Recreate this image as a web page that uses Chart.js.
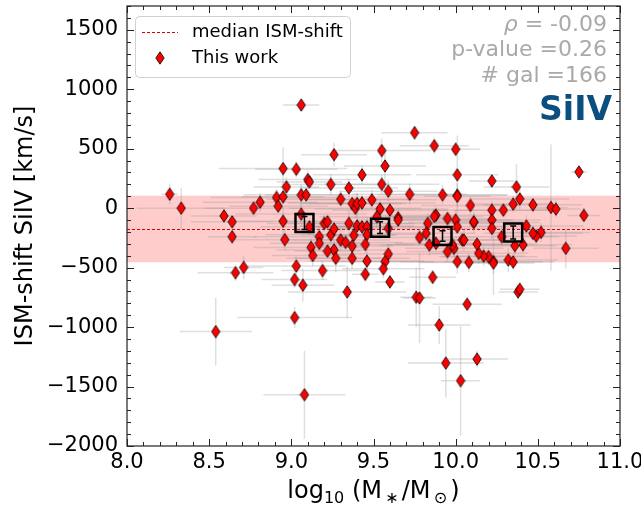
<!DOCTYPE html>
<html>
<head>
<meta charset="utf-8">
<script src="https://cdn.jsdelivr.net/npm/chart.js@4"></script>
<style>
  html, body { margin: 0; padding: 0; background: #fff; }
</style>
</head>
<body>
<canvas id="myChart" width="641" height="508"></canvas>
<script>
// log10 stellar mass of each galaxy
const massX = [
  8.26, 8.33, 8.54, 8.59, 8.64, 8.64, 8.66, 8.71, 8.77, 8.81,
  8.91, 8.92, 8.95, 8.95, 8.97, 8.95, 8.96, 9.03, 9.06, 9.10,
  9.11, 9.06, 9.09, 9.06, 9.11, 9.12, 9.13, 9.03, 9.02, 9.07,
  9.02, 9.08, 9.17, 9.17, 9.19, 9.20, 9.22, 9.24, 9.24, 9.26,
  9.26, 9.26, 9.27, 9.22, 9.30, 9.30, 9.33, 9.35, 9.35, 9.37,
  9.37, 9.37, 9.39, 9.40, 9.38, 9.40, 9.43, 9.43, 9.43, 9.46,
  9.46, 9.45, 9.46, 9.45, 9.34, 9.49, 9.55, 9.57, 9.55, 9.59,
  9.54, 9.60, 9.65, 9.65, 9.52, 9.59, 9.59, 9.57, 9.56, 9.60,
  9.72, 9.75, 9.87, 10.00, 10.01, 9.92, 10.01, 10.01, 10.09, 10.22,
  10.37, 10.39, 10.35, 10.29, 10.22, 10.22, 10.22, 10.47, 10.58, 10.61,
  10.75, 10.78, 10.67, 10.52, 10.49, 10.47, 10.43, 10.41, 10.36, 10.32,
  10.35, 10.38, 10.39, 10.28, 10.23, 10.23, 10.20, 10.17, 10.14, 10.13,
  10.08, 10.11, 10.11, 10.01, 9.99, 10.04, 10.05, 10.00, 10.01, 9.98,
  9.95, 9.95, 9.88, 9.87, 9.83, 9.82, 9.78, 9.84, 9.88, 9.86,
  9.76, 9.78, 10.07, 9.90, 9.94, 10.13, 10.03
];
// ISM shift of SiIV in km/s
const shiftY = [
  117, 0, -1038, -65, -115, -240, -543, -498, 0, 50,
  90, 17, 95, 333, 179, -110, -265, 327, 867, 241,
  221, 112, 112, -50, -157, -330, -398, -487, -600, -648,
  -920, -1569, -240, -296, -525, -128, -115, -224, 199, 450,
  -176, -352, -422, -361, 75, -268, -288, -128, 170, -319,
  -422, 39, 0, -149, -227, 39, 280, 44, -157, -157,
  -222, -305, -445, -556, -705, 70, 484, 355, 201, 143,
  -6, -17, -81, -100, -73, -170, -386, -450, -510, -620,
  117, 635, 525, 495, 280, 112, 109, 100, 23, 229,
  179, 78, 34, -17, -17, -100, -170, 28, 6, -8,
  305, -61, -338, -204, -235, -212, -149, -308, -316, -436,
  -453, -705, -682, -240, -450, -462, -408, -403, -380, -302,
  -456, -120, -115, -450, -338, -268, -268, -100, -157, -308,
  -87, -365, -59, -70, -128, -212, -246, -310, -296, -582,
  -749, -755, -808, -982, -1303, -1269, -1451
];
// errors on mass (dex) and on shift (km/s)
const massErr = [
  0.05, 0.27, 0.22, 0.20, 0.25, 0.15, 0.23, 0.12, 0.30, 0.35,
  0.40, 0.30, 0.25, 0.39, 0.20, 0.30, 0.35, 0.25, 0.11, 0.30,
  0.20, 0.35, 0.25, 0.40, 0.30, 0.35, 0.25, 0.30, 0.20, 0.19,
  0.35, 0.25, 0.40, 0.30, 0.25, 0.35, 0.30, 0.40, 0.30, 0.20,
  0.25, 0.35, 0.30, 0.20, 0.45, 0.30, 0.35, 0.40, 0.30, 0.25,
  0.35, 0.30, 0.40, 0.35, 0.25, 0.30, 0.30, 0.45, 0.30, 0.35,
  0.40, 0.30, 0.35, 0.08, 0.36, 0.40, 0.30, 0.25, 0.35, 0.30,
  0.40, 0.35, 0.30, 0.25, 0.35, 0.30, 0.40, 0.30, 0.25, 0.09,
  0.35, 0.20, 0.21, 0.15, 0.25, 0.40, 0.30, 0.20, 0.30, 0.14,
  0.20, 0.30, 0.25, 0.30, 0.35, 0.30, 0.25, 0.30, 0.10, 0.15,
  0.05, 0.10, 0.20, 0.30, 0.25, 0.30, 0.35, 0.30, 0.25, 0.30,
  0.25, 0.12, 0.12, 0.35, 0.30, 0.25, 0.30, 0.25, 0.30, 0.35,
  0.30, 0.40, 0.30, 0.35, 0.30, 0.25, 0.30, 0.35, 0.30, 0.40,
  0.30, 0.25, 0.35, 0.30, 0.40, 0.30, 0.35, 0.30, 0.25, 0.14,
  0.10, 0.10, 0.21, 0.19, 0.23, 0.19, 0.12
];
const shiftErr = [
  85, 170, 285, 60, 50, 60, 70, 100, 60, 80,
  70, 50, 60, 180, 80, 120, 90, 70, 40, 80,
  60, 90, 60, 100, 70, 80, 90, 80, 70, 140,
  90, 370, 90, 60, 80, 70, 60, 80, 90, 100,
  70, 80, 120, 60, 70, 90, 60, 110, 80, 70,
  90, 60, 80, 100, 70, 90, 80, 70, 60, 80,
  90, 70, 100, 60, 220, 80, 100, 150, 80, 90,
  70, 60, 80, 60, 90, 70, 80, 100, 80, 60,
  90, 60, 70, 60, 330, 80, 100, 70, 80, 60,
  190, 90, 70, 60, 80, 70, 90, 60, 530, 70,
  40, 60, 170, 80, 70, 60, 90, 70, 80, 100,
  70, 60, 50, 80, 280, 90, 70, 80, 90, 60,
  80, 90, 70, 100, 80, 70, 90, 80, 60, 70,
  90, 80, 70, 60, 80, 100, 70, 90, 60, 60,
  250, 380, 40, 160, 290, 70, 460
];

// binned medians
const binMass = [9.08, 9.54, 9.92, 10.35];
const binShift = [-125, -164, -234, -204];
const binErr = [55, 50, 45, 55];

const medianShift = -175;
const bandLow = -455;
const bandHigh = 105;

const xTicks = [8.0, 8.5, 9.0, 9.5, 10.0, 10.5, 11.0];
const yTicks = [-2000, -1500, -1000, -500, 0, 500, 1000, 1500];

const rhoValue = '-0.09';
const pValue = '0.26';
const nGal = '166';

const FONT = 'DejaVu Sans';

function makeDiamond(){
  var c = document.createElement('canvas');
  c.width = 10;
  c.height = 14;
  var g = c.getContext('2d');
  g.beginPath();
  g.moveTo(5, 0.8);
  g.lineTo(9.2, 7);
  g.lineTo(5, 13.2);
  g.lineTo(0.8, 7);
  g.closePath();
  g.fillStyle = '#ff0000';
  g.fill();
  g.lineWidth = 0.8;
  g.strokeStyle = '#000';
  g.stroke();
  return c;
}
const diamond = makeDiamond();

const points = massX.map(function(x, i){ return {x: x, y: shiftY[i]}; });
const bins = binMass.map(function(x, i){ return {x: x, y: binShift[i]}; });

//Plugin for band, error bars, frame, legend and texts
const extras = {
  id: 'extras',
  beforeDatasetsDraw: function(chart){
    var ctx = chart.ctx, xs = chart.scales.x, ys = chart.scales.y, a = chart.chartArea;
    ctx.save();
    ctx.beginPath();
    ctx.rect(a.left, a.top, a.right - a.left, a.bottom - a.top);
    ctx.clip();

    var yt = ys.getPixelForValue(bandHigh);
    var yb = ys.getPixelForValue(bandLow);
    ctx.fillStyle = 'rgba(255,0,0,0.2)';
    ctx.fillRect(a.left, yt, a.right - a.left, yb - yt);

    var ym = Math.round(ys.getPixelForValue(medianShift)) + 0.5;
    ctx.strokeStyle = '#e00000';
    ctx.lineWidth = 1;
    ctx.setLineDash([3, 2]);
    ctx.beginPath();
    ctx.moveTo(a.left, ym);
    ctx.lineTo(a.right, ym);
    ctx.stroke();
    ctx.setLineDash([]);

    ctx.strokeStyle = 'rgba(150,150,150,0.3)';
    ctx.lineWidth = 1.5;
    for (var i = 0; i < massX.length; i++){
      var px = xs.getPixelForValue(massX[i]);
      var py = ys.getPixelForValue(shiftY[i]);
      ctx.beginPath();
      ctx.moveTo(xs.getPixelForValue(massX[i] - massErr[i]), py);
      ctx.lineTo(xs.getPixelForValue(massX[i] + massErr[i]), py);
      ctx.moveTo(px, ys.getPixelForValue(shiftY[i] - shiftErr[i]));
      ctx.lineTo(px, ys.getPixelForValue(shiftY[i] + shiftErr[i]));
      ctx.stroke();
    }
    ctx.restore();
  },
  afterDatasetsDraw: function(chart){
    var ctx = chart.ctx, xs = chart.scales.x, ys = chart.scales.y, a = chart.chartArea;
    ctx.save();

    // error bars of the bins
    ctx.strokeStyle = '#000';
    ctx.lineWidth = 1.5;
    for (var b = 0; b < binMass.length; b++){
      var bx = xs.getPixelForValue(binMass[b]);
      var b1 = ys.getPixelForValue(binShift[b] - binErr[b]);
      var b2 = ys.getPixelForValue(binShift[b] + binErr[b]);
      ctx.beginPath();
      ctx.moveTo(bx, b1); ctx.lineTo(bx, b2);
      ctx.moveTo(bx - 3, b1); ctx.lineTo(bx + 3, b1);
      ctx.moveTo(bx - 3, b2); ctx.lineTo(bx + 3, b2);
      ctx.stroke();
    }

    // frame
    ctx.strokeStyle = '#222';
    ctx.lineWidth = 1.2;
    ctx.strokeRect(a.left, a.top, a.right - a.left, a.bottom - a.top);

    // inward ticks on all sides
    ctx.lineWidth = 1;
    ctx.beginPath();
    for (var k = 0; k <= 30; k++){
      var v = 8 + k * 0.1;
      var len = (k % 5 === 0) ? 7 : 4;
      var x = Math.round(xs.getPixelForValue(v)) + 0.5;
      ctx.moveTo(x, a.bottom); ctx.lineTo(x, a.bottom - len);
      ctx.moveTo(x, a.top); ctx.lineTo(x, a.top + len);
    }
    for (var m = -2000; m <= 1700; m += 100){
      var len2 = (m % 500 === 0) ? 7 : 4;
      var y = Math.round(ys.getPixelForValue(m)) + 0.5;
      ctx.moveTo(a.left, y); ctx.lineTo(a.left + len2, y);
      ctx.moveTo(a.right, y); ctx.lineTo(a.right - len2, y);
    }
    ctx.stroke();

    // legend
    ctx.fillStyle = 'rgba(255,255,255,0.85)';
    ctx.strokeStyle = '#d0d0d0';
    ctx.lineWidth = 1;
    ctx.beginPath();
    ctx.roundRect(135.5, 16.5, 215, 61, 4);
    ctx.fill();
    ctx.stroke();
    ctx.strokeStyle = '#e00000';
    ctx.setLineDash([3, 2]);
    ctx.beginPath();
    ctx.moveTo(142, 32.5);
    ctx.lineTo(178, 32.5);
    ctx.stroke();
    ctx.setLineDash([]);
    ctx.drawImage(diamond, 160 - 5, 58 - 7);
    ctx.fillStyle = '#000';
    ctx.font = '18px "' + FONT + '"';
    ctx.textAlign = 'left';
    ctx.textBaseline = 'middle';
    ctx.fillText('median ISM-shift', 192, 32);
    ctx.fillText('This work', 192, 58);

    // statistics text
    ctx.fillStyle = '#a9a9a9';
    ctx.textAlign = 'right';
    ctx.font = '22px "' + FONT + '"';
    var rest = ' = ' + rhoValue;
    var wRest = ctx.measureText(rest).width;
    ctx.fillText(rest, 607, 25);
    ctx.font = 'italic 22px "' + FONT + '"';
    ctx.fillText('ρ', 607 - wRest, 25);
    ctx.font = '22px "' + FONT + '"';
    ctx.fillText('p-value =' + pValue, 607, 50);
    ctx.fillText('# gal =' + nGal, 607, 76);

    ctx.fillStyle = '#0b4f80';
    ctx.font = 'bold 33px "' + FONT + '"';
    ctx.fillText('SiIV', 612, 111);

    // y axis title
    ctx.fillStyle = '#000';
    ctx.save();
    ctx.translate(26, (a.top + a.bottom) / 2);
    ctx.rotate(-Math.PI / 2);
    ctx.textAlign = 'center';
    ctx.textBaseline = 'middle';
    ctx.font = '24px "' + FONT + '"';
    ctx.fillText('ISM-shift SiIV [km/s]', 0, 0);
    ctx.restore();

    // x axis title with subscripts
    var parts = [
      ['log', 0], ['10', 1], [' (M', 0], ['\u2009\u2217\u2009', 1], ['/M', 0], ['\u2009\u2299\u2009', 1], [')', 0]
    ];
    var big = '24px "' + FONT + '"', small = '16px "' + FONT + '"';
    var total = 0;
    parts.forEach(function(p){
      ctx.font = p[1] ? small : big;
      total += ctx.measureText(p[0]).width;
    });
    var cx = (a.left + a.right) / 2 - total / 2;
    ctx.textAlign = 'left';
    ctx.textBaseline = 'alphabetic';
    parts.forEach(function(p){
      ctx.font = p[1] ? small : big;
      ctx.fillText(p[0], cx, p[1] ? 503 : 498);
      cx += ctx.measureText(p[0]).width;
    });

    ctx.restore();
  }
};

const config = {
  type: 'scatter',
  data: {
    datasets: [{
      label: 'bins',
      data: bins,
      order: 0,
      pointStyle: 'rect',
      pointRadius: 12.7,
      pointBorderWidth: 2.5,
      pointBorderColor: '#000',
      pointBackgroundColor: 'rgba(0,0,0,0)'
    }, {
      label: 'This work',
      data: points,
      order: 1,
      pointStyle: diamond,
      pointRadius: 6
    }]
  },
  options: {
    responsive: false,
    animation: false,
    devicePixelRatio: 1,
    layout: { autoPadding: false, padding: { left: 0, top: 6, right: 21, bottom: 0 } },
    plugins: {
      legend: { display: false },
      tooltip: { enabled: false }
    },
    scales: {
      x: {
        type: 'linear',
        min: 8,
        max: 11,
        grid: { display: false, drawTicks: false },
        border: { display: false },
        afterBuildTicks: function(s){ s.ticks = xTicks.map(function(v){ return {value: v}; }); },
        afterFit: function(s){
          s.height = 62;
          s.paddingLeft = 0; s.paddingRight = 0;
        },
        ticks: {
          padding: 4,
          color: '#000',
          font: { family: FONT, size: 21 },
          callback: function(v){ return Number(v).toFixed(1); }
        }
      },
      y: {
        type: 'linear',
        min: -2000,
        max: 1700,
        grid: { display: false, drawTicks: false },
        border: { display: false },
        afterBuildTicks: function(s){ s.ticks = yTicks.map(function(v){ return {value: v}; }); },
        afterFit: function(s){
          s.width = 127;
          s.paddingTop = 0; s.paddingBottom = 0;
        },
        ticks: {
          padding: 9,
          color: '#000',
          font: { family: FONT, size: 21 },
          callback: function(v){ return v < 0 ? '\u2212' + Math.abs(v) : String(v); }
        }
      }
    }
  },
  plugins: [extras]
};

var myChart = new Chart(document.getElementById('myChart'), config);
</script>
</body>
</html>
